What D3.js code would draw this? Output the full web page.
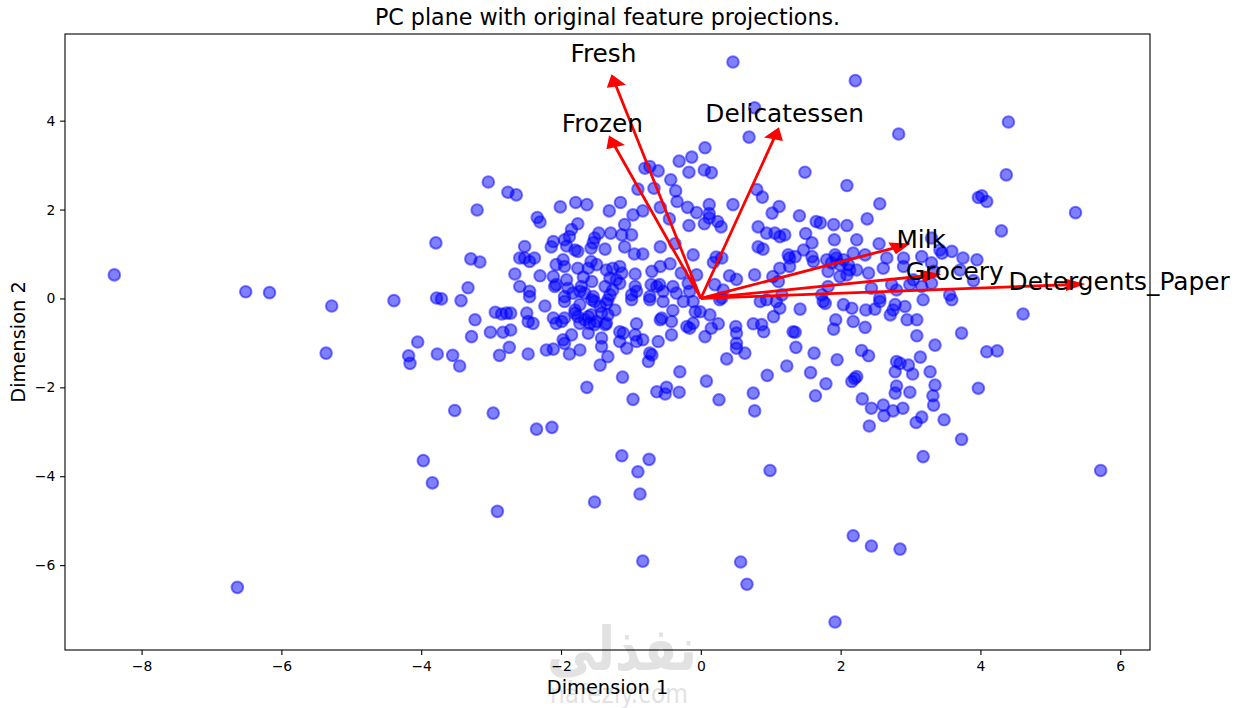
<!DOCTYPE html>
<html>
<head>
<meta charset="utf-8">
<script src="https://cdn.jsdelivr.net/npm/d3@7/dist/d3.min.js"></script>
<style>
  body { margin: 0; background: #fff; }
  text { font-family: "DejaVu Sans", sans-serif; }
</style>
</head>
<body>
<svg id="chart" width="1240" height="708"></svg>
<script>
// feature loadings on the first two principal components
const features = ['Fresh', 'Milk', 'Grocery', 'Frozen', 'Detergents_Paper', 'Delicatessen'];
const loadDim1 = [-0.174, 0.394, 0.454, -0.176, 0.748, 0.150];
const loadDim2 = [0.686, 0.162, 0.072, 0.490, 0.044, 0.516];

const xTicks = [-8, -6, -4, -2, 0, 2, 4, 6];
const yTicks = [-6, -4, -2, 0, 2, 4];

// samples projected on the PC plane [Dimension 1, Dimension 2]
const projected = [
  [-8.39,0.53],[-6.51,0.15],[-6.17,0.13],[-5.28,-0.17],[-5.36,-1.23],[-6.63,-6.50],[-4.39,-0.05],
  [-4.18,-1.29],[-4.16,-1.46],[-4.05,-0.98],[-3.79,1.25],[-3.78,0.01],[-3.71,-0.01],[-3.77,-1.25],
  [-3.97,-3.65],[-3.84,-4.15],[-3.52,-2.52],[-3.55,-1.28],[-3.45,-1.52],[-3.43,-0.05],[-3.33,0.24],
  [-3.29,0.89],[-3.16,0.82],[-3.20,1.99],[-3.23,-0.48],[-3.28,-0.86],[-3.04,2.62],[-2.97,-2.58],
  [-2.91,-4.79],[-2.76,2.39],[-2.64,2.33],[-2.35,-2.94],[-2.13,-2.90],
  [-2.94,-0.31],[-2.85,-0.35],[-2.78,-0.33],[-2.72,-0.33],[-3.01,-0.76],[-2.83,-0.76],[-2.72,-0.71],
  [-2.74,-1.10],[-2.88,-1.28],[-2.66,0.55],[-2.59,0.91],[-2.59,0.27],
  [0.06,3.39],[-0.31,3.09],[-0.13,3.18],[-0.73,2.97],[-0.80,2.93],[-0.61,2.87],[-0.17,2.84],
  [0.05,2.89],[0.15,2.83],[-0.43,2.67],[-0.90,2.46],[-0.67,2.48],[-0.36,2.42],[-0.34,2.18],
  [-0.19,2.05],[0.12,2.11],[0.46,2.11],[-0.06,1.93],[0.12,1.91],[0.12,1.81],[0.05,1.68],
  [0.24,1.73],[0.29,1.61],[-0.17,1.64],[-0.58,2.05],[-0.45,1.79],[-1.15,2.16],[-1.31,1.97],
  [-0.97,1.88],[-0.83,1.97],[-1.79,2.16],[-1.63,2.11],[-2.01,2.06],[-2.34,1.82],[-2.30,1.72],
  [-1.76,1.68],[-1.85,1.55],[-1.88,1.39],[-2.11,1.28],[-2.14,1.16],[-1.95,1.32],[-1.92,1.18],
  [-1.46,1.47],[-1.52,1.36],[-1.54,1.25],[-1.57,1.13],[-1.29,1.47],[-1.09,1.66],[-1.13,1.43],
  [-0.99,1.43],[-1.80,1.09],[-1.76,1.06],[-2.52,1.17],[-1.37,1.11],[-1.09,1.16],[-0.95,1.00],
  [-0.83,1.00],[-0.58,1.16],[-0.37,1.23],[-0.11,0.98],[0.22,0.93],[0.30,0.91],[0.18,0.81],
  [0.41,0.51],[0.51,0.43],[-2.52,0.91],[-2.45,0.83],[-2.38,0.91],[-2.07,0.76],[-1.97,0.87],
  [-1.95,0.72],[-1.76,0.68],[-1.61,0.68],[-1.57,0.83],[-1.49,0.76],[-1.35,0.64],[-1.26,0.68],
  [-1.16,0.72],[-1.13,0.57],[-1.21,0.42],[-1.30,0.46],[-0.94,0.55],[-0.70,0.61],[-0.58,0.72],
  [-0.44,0.78],[-2.30,0.51],[-2.11,0.49],[-2.07,0.31],[-2.09,0.27],[-1.92,0.42],[-1.90,0.23],
  [-1.68,0.48],[-1.71,0.27],[-1.56,0.38],[-1.66,0.12],[-1.73,0.16],[-1.83,0.12],[-2.45,0.16],
  [-2.45,0.04],[-1.37,0.27],[-1.26,0.19],[-1.16,0.34],[-0.94,0.27],[-0.92,0.16],[-0.71,0.31],
  [-0.63,0.27],[-0.59,0.31],[-0.54,0.16],[-0.40,0.27],[-0.35,0.12],[-0.18,0.34],[-0.16,0.16],
  [-1.95,0.04],[-1.54,0.04],[-1.30,0.08],[-0.99,0.08],[-0.73,0.04],[-0.28,0.57],[-0.06,0.53],
  [0.20,0.31],[0.32,0.19],[0.30,0.01],
  [0.46,5.32],[2.21,4.90],[0.77,4.29],[0.69,3.63],[2.83,3.70],
  [1.49,2.84],[2.09,2.54],[2.56,2.13],[0.80,2.45],[0.88,2.28],[1.12,2.07],[1.02,1.92],
  [1.41,1.86],[1.65,1.73],[1.71,1.70],[1.90,1.66],[2.09,1.64],[2.38,1.79],[0.82,1.61],
  [0.94,1.47],[1.06,1.47],[1.13,1.39],[1.20,1.43],[1.50,1.46],[1.91,1.32],[2.23,1.32],
  [0.82,1.16],[0.89,1.11],[1.47,1.09],[1.59,1.25],[1.25,0.98],[1.27,0.91],[1.35,0.94],
  [1.59,0.94],[1.61,0.83],[1.92,0.98],[1.94,0.91],[2.18,1.02],[2.35,0.98],[2.55,1.23],
  [2.66,0.91],[2.61,0.68],[2.90,0.91],[2.90,0.72],[3.16,0.94],[3.30,1.36],[3.42,1.09],
  [3.45,1.02],[3.59,1.06],[3.30,0.80],[3.33,0.61],[1.13,0.68],[1.27,0.72],[1.03,0.49],
  [1.11,0.38],[0.77,0.53],[1.80,0.87],[1.82,0.61],[1.87,0.80],[1.99,0.76],[2.04,0.87],
  [2.11,0.76],[2.13,0.64],[2.23,0.64],[2.40,0.57],[1.99,0.49],[2.09,0.53],[1.82,0.27],
  [1.73,0.08],[1.16,0.08],[2.44,0.23],[2.56,0.01],[2.73,0.31],[2.80,0.19],[2.99,0.31],
  [3.04,0.42],[3.16,0.27],[3.30,0.34],[3.56,0.08],
  [4.40,3.97],[4.37,2.78],[3.97,2.27],[4.02,2.31],[4.09,2.18],[5.36,1.93],[4.30,1.52],
  [3.75,0.91],[3.95,0.87],[3.90,0.40],[3.71,0.64],
  [4.61,-0.35],[3.73,-0.78],[4.09,-1.20],[4.24,-1.18],[3.97,-2.02],[3.73,-3.17],[5.72,-3.87],
  [0.85,-0.07],[0.94,-0.03],[1.13,-0.22],[1.04,-0.41],[1.32,-0.75],
  [-2.23,-0.17],[-1.95,-0.07],[-1.73,-0.14],[-1.80,-0.26],[-1.56,-0.03],[-1.52,-0.07],[-1.35,-0.11],
  [-1.33,-0.03],[-1.23,-0.26],[-0.99,-0.03],[-0.73,-0.03],[-0.54,-0.07],[-0.25,-0.07],[-0.11,-0.07],
  [0.27,-0.03],[-2.49,-0.33],[-2.47,-0.52],[-2.40,-0.56],[-2.11,-0.44],[-2.07,-0.56],[-1.99,-0.52],
  [-1.95,-0.44],[-1.80,-0.33],[-1.76,-0.41],[-1.73,-0.56],[-1.66,-0.48],[-1.61,-0.41],[-1.59,-0.56],
  [-1.57,-0.37],[-1.49,-0.52],[-1.52,-0.59],[-1.37,-0.59],[-1.35,-0.56],[-1.61,-0.78],[-1.44,-0.18],
  [-1.42,-0.33],[-1.33,-0.37],[-1.85,-0.82],[-1.97,-0.93],[-1.95,-1.01],[-2.21,-1.16],[-2.11,-1.14],
  [-2.47,-1.25],[-1.88,-1.25],[-1.73,-1.16],[-1.42,-0.89],[-1.42,-1.08],[-1.44,-1.50],[-1.33,-1.31],
  [-1.16,-0.75],[-1.11,-0.78],[-1.16,-0.97],[-1.06,-1.12],[-0.94,-0.82],[-0.92,-0.97],[-0.83,-0.93],
  [-0.92,-0.57],[-0.73,-1.23],[-0.75,-1.42],[-0.70,-1.27],[-0.61,-0.97],[-0.58,-0.48],[-0.56,-0.44],
  [-0.42,-0.52],[-0.40,-0.27],[-0.42,-0.82],[-0.20,-0.63],[-0.16,-0.67],[-0.11,-0.56],[-0.08,-0.30],
  [-0.01,-0.30],[0.13,-0.37],[0.06,-0.86],[0.15,-0.67],[0.25,-0.57],[0.50,-0.63],[0.51,-0.78],
  [0.51,-1.01],[0.51,-1.12],[0.37,-1.36],[-0.30,-1.65],[-1.12,-1.77],[-1.63,-2.00],[-0.97,-2.27],
  [-0.63,-2.10],[-0.51,-2.15],[-0.49,-2.00],[-0.31,-2.11],[0.08,-1.86],[0.26,-2.28],[-1.13,-3.54],
  [-0.74,-3.62],
  [1.08,-0.07],[1.42,-0.24],[1.75,-0.07],[1.78,-0.11],[2.04,-0.14],[2.16,-0.22],[2.36,-0.26],
  [2.49,-0.24],[2.56,-0.07],[2.71,-0.37],[2.75,-0.26],[2.78,-0.14],[2.92,-0.18],[3.09,-0.48],
  [2.95,-0.48],[3.18,-0.03],[3.59,-0.03],[0.75,-0.57],[0.87,-0.59],[0.90,-0.75],[0.63,-1.23],
  [1.35,-0.76],[1.36,-1.10],[1.93,-0.48],[1.90,-0.69],[2.18,-0.52],[2.35,-0.65],[3.09,-0.84],
  [3.35,-1.05],[1.62,-1.23],[1.95,-1.38],[1.23,-1.52],[0.95,-1.73],[1.57,-1.67],[1.79,-1.92],
  [1.64,-2.19],[0.75,-2.13],[0.77,-2.53],[2.30,-1.17],[2.40,-1.29],[2.16,-1.87],[2.20,-1.80],
  [2.23,-1.76],[2.31,-2.26],[2.44,-2.47],[2.41,-2.87],[2.61,-2.40],[2.62,-2.64],[2.75,-2.53],
  [2.89,-2.47],[2.80,-1.42],[2.85,-1.46],[2.97,-1.50],[2.78,-1.65],[3.03,-1.70],[2.80,-1.97],
  [2.78,-2.13],[2.99,-2.11],[3.14,-1.32],[3.28,-1.65],[3.35,-1.95],[3.32,-2.19],[3.33,-2.40],
  [3.08,-2.79],[3.16,-2.67],[3.48,-2.73],[3.18,-3.56],
  [-1.52,-4.58],[-0.90,-3.90],[-0.87,-4.40],[-0.83,-5.91],[0.57,-5.93],[0.66,-6.43],[1.92,-7.28],
  [2.18,-5.34],[2.44,-5.57],[2.85,-5.64],[0.99,-3.87]
];

const arrowSize = 7.0, textPos = 8.0;
const headWidth = 0.2, headLength = 0.2;

const svg = d3.select('#chart');
const box = { left: 65, right: 1150, top: 34, bottom: 650 };

// matplotlib-like 5% margins around the data
function padded(ext) {
  const m = (ext[1] - ext[0]) * 0.05;
  return [ext[0] - m, ext[1] + m];
}
const x = d3.scaleLinear()
  .domain(padded(d3.extent(projected, d => d[0])))
  .range([box.left, box.right]);
const y = d3.scaleLinear()
  .domain(padded(d3.extent(projected, d => d[1])))
  .range([box.bottom, box.top]);

// watermark of the source site
const wm = svg.append('g').attr('fill', '#cfcfcf').attr('opacity', 0.6);
wm.append('text')
  .attr('x', 622).attr('y', 670)
  .attr('text-anchor', 'middle')
  .attr('font-size', 60).attr('font-weight', 'bold')
  .attr('textLength', 150).attr('lengthAdjust', 'spacingAndGlyphs')
  .text('نفذلي');
wm.append('text')
  .attr('x', 619).attr('y', 703)
  .attr('text-anchor', 'middle')
  .attr('font-size', 27)
  .attr('textLength', 138).attr('lengthAdjust', 'spacingAndGlyphs')
  .text('nafezly.com');

// axes
const xAxis = svg.append('g')
  .attr('transform', `translate(0,${box.bottom})`)
  .call(d3.axisBottom(x).tickValues(xTicks).tickSize(4.9).tickPadding(6.5));
const yAxis = svg.append('g')
  .attr('transform', `translate(${box.left},0)`)
  .call(d3.axisLeft(y).tickValues(yTicks).tickSize(4.9).tickPadding(4.8));

[xAxis, yAxis].forEach(g => {
  g.select('.domain').remove();
  g.selectAll('.tick line').attr('stroke', '#000').attr('stroke-width', 1.1);
  g.selectAll('.tick text')
    .attr('fill', '#000')
    .style('font-family', '"DejaVu Sans", sans-serif')
    .style('font-size', '13.9px');
});

// scatter
svg.append('g')
  .selectAll('circle')
  .data(projected)
  .join('circle')
  .attr('cx', d => x(d[0]))
  .attr('cy', d => y(d[1]))
  .attr('r', 5.8)
  .attr('fill', 'rgba(0,0,255,0.5)')
  .attr('stroke', 'rgba(0,0,255,0.5)')
  .attr('stroke-width', 2);

// feature projections as arrows, built in data units like FancyArrow
const arrows = features.map((name, i) => {
  const dx = arrowSize * loadDim1[i], dy = arrowSize * loadDim2[i];
  const len = Math.hypot(dx, dy);
  const ux = dx / len, uy = dy / len;
  const hw = headWidth / 2;
  const pts = [
    [0, 0],
    [dx, dy],
    [dx - hw * uy, dy + hw * ux],
    [dx + headLength * ux, dy + headLength * uy],
    [dx + hw * uy, dy - hw * ux],
    [dx, dy]
  ];
  return { name, pts, tx: textPos * loadDim1[i], ty: textPos * loadDim2[i] };
});

const line = d3.line().x(p => x(p[0])).y(p => y(p[1]));
svg.append('g')
  .selectAll('path')
  .data(arrows)
  .join('path')
  .attr('d', d => line(d.pts) + 'Z')
  .attr('fill', 'red')
  .attr('stroke', 'red')
  .attr('stroke-width', 2.76)
  .attr('stroke-linejoin', 'miter');

svg.append('g')
  .selectAll('text')
  .data(arrows)
  .join('text')
  .attr('x', d => x(d.tx))
  .attr('y', d => y(d.ty))
  .attr('dy', '0.3em')
  .attr('text-anchor', 'middle')
  .attr('font-size', 24.8)
  .attr('fill', '#000')
  .text(d => d.name);

// frame
svg.append('rect')
  .attr('x', box.left).attr('y', box.top)
  .attr('width', box.right - box.left).attr('height', box.bottom - box.top)
  .attr('fill', 'none').attr('stroke', '#000').attr('stroke-width', 1.1);

// labels
svg.append('text')
  .attr('x', (box.left + box.right) / 2).attr('y', 25)
  .attr('text-anchor', 'middle').attr('font-size', 22.2)
  .text('PC plane with original feature projections.');
svg.append('text')
  .attr('x', (box.left + box.right) / 2).attr('y', 694)
  .attr('text-anchor', 'middle').attr('font-size', 19.4)
  .text('Dimension 1');
svg.append('text')
  .attr('transform', `translate(25,${(box.top + box.bottom) / 2}) rotate(-90)`)
  .attr('text-anchor', 'middle').attr('font-size', 19.4)
  .text('Dimension 2');
</script>
</body>
</html>
